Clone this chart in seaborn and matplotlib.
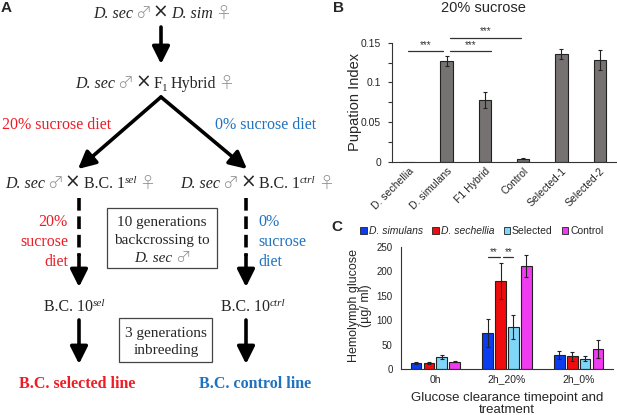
import numpy as np
import pandas as pd
import seaborn as sns
import matplotlib.pyplot as plt
from matplotlib.patches import Rectangle, Patch
from matplotlib.ticker import FuncFormatter, MultipleLocator

# ---- Datos panel B (indice de pupacion, 20% sacarosa) ----
lineas_b = ["D. sechellia", "D. simulans", "F1 Hybrid", "Control", "Selected-1", "Selected-2"]
pupacion = [0.0, 0.127, 0.078, 0.004, 0.136, 0.128]
pupacion_err = [0.0, 0.006, 0.010, 0.001, 0.006, 0.013]

# ---- Datos panel C (glucosa en hemolinfa) ----
tiempos = ["0h", "2h_20%", "2h_0%"]
cepas = ["D. simulans", "D. sechellia", "Selected", "Control"]
glu_sim = [12, 73, 29]
glu_sec = [12, 180, 26]
glu_sel = [25, 86, 21]
glu_ctrl = [15, 211, 41]
err_sim = [2, 29, 8]
err_sec = [1.5, 36, 9]
err_sel = [4, 24, 5]
err_ctrl = [1.5, 22, 19]
colores_c = ["#0b3cf0", "#f00c0c", "#7fd6f8", "#f03cf0"]

sns.set_theme(style="ticks")
plt.rcParams["font.family"] = ["Liberation Sans", "DejaVu Sans"]

fig = plt.figure(figsize=(6.17, 4.15), dpi=100)
W, H = 617, 415

# ================= Panel A: esquema de cruces =================
axA = fig.add_axes([0, 0, 360 / W, 1])
axA.set_xlim(0, 360)
axA.set_ylim(H, 0)
axA.axis("off")

ROJO = "#ee1c25"
AZUL = "#1f72c0"
SERIF = ["Liberation Serif", "DejaVu Serif"]
IT = dict(family=SERIF, style="italic")
RM = dict(family=SERIF)
SYM = dict(family=["Noto Sans CJK JP", "DejaVu Sans"], color="#8c8c8c", fontweight="light")
XX = dict(family=["DejaVu Sans"], fontsize=13.5)
renderer = fig.canvas.get_renderer()


def texto_mixto(xc, y, partes, size=11.5):
    # partes: (texto, estilo, hueco antes en px, desplazamiento vertical, escala)
    objs = []
    total = 0
    for s, kw, gap, dy, esc in partes:
        kw = dict(kw)
        fs = kw.pop("fontsize", size) * esc
        t = axA.text(0, y + dy, s, fontsize=fs, va="baseline", ha="left", **kw)
        w = t.get_window_extent(renderer=renderer).width
        objs.append((t, gap, w))
        total += gap + w
    x = xc - total / 2
    for t, gap, w in objs:
        x += gap
        t.set_x(x)
        x += w


def cruce(xc, y, derecha):
    texto_mixto(xc, y, [("D. sec", IT, 0, 0, 1), ("\u2642", SYM, 2, 0, 1), ("\u00d7", XX, 2, 0, 1)] + derecha
                + [("\u2640", SYM, 2, 0, 1)])


cruce(162, 18, [("D. sim", IT, 3, 0, 1)])
cruce(155, 88, [("F", RM, 2, 0, 1), ("1", RM, 0, 3, 0.7), ("Hybrid", RM, 3, 0, 1)])
cruce(80, 188, [("B.C. 1", RM, 3, 0, 1), ("sel", IT, 0, -5, 0.7)])
cruce(257, 188, [("B.C. 1", RM, 3, 0, 1), ("ctrl", IT, 0, -5, 0.7)])
texto_mixto(75, 311, [("B.C. 10", RM, 0, 0, 1), ("sel", IT, 0, -5, 0.7)])
texto_mixto(253, 311, [("B.C. 10", RM, 0, 0, 1), ("ctrl", IT, 0, -5, 0.7)])

flecha = dict(arrowstyle="-|>,head_length=0.7,head_width=0.35", lw=2.6, color="black",
              mutation_scale=15, shrinkA=0, shrinkB=0)
for (x0, y0), (x1, y1) in [((161, 27), (161, 64)), ((161, 97), (78, 169)), ((161, 97), (247, 169)),
                           ((79, 255), (79, 287)), ((246, 255), (246, 287)),
                           ((79, 320), (79, 364)), ((246, 320), (246, 364))]:
    axA.annotate("", xy=(x1, y1), xytext=(x0, y0), arrowprops=flecha)
for xv in [79, 246]:
    axA.plot([xv, xv], [198, 256], color="black", lw=2.6, ls=(0, (3.5, 1.6)), solid_capstyle="butt")

axA.text(57, 125, "20% sucrose diet", color=ROJO, fontsize=11.5, family=SERIF, ha="center", va="center")
axA.text(266, 125, "0% sucrose diet", color=AZUL, fontsize=11.5, family=SERIF, ha="center", va="center")
axA.text(68, 242, "20%\nsucrose\ndiet", color=ROJO, fontsize=11.5, family=SERIF, ha="right",
         va="center", multialignment="right", linespacing=1.3)
axA.text(258, 242, "0%\nsucrose\ndiet", color=AZUL, fontsize=11.5, family=SERIF, ha="left",
         va="center", linespacing=1.3)

axA.add_patch(Rectangle((107, 208), 110, 60, fc="white", ec="#444", lw=0.9))
axA.text(162, 222, "10 generations", fontsize=11, family=SERIF, ha="center", va="center")
axA.text(162, 240, "backcrossing to", fontsize=11, family=SERIF, ha="center", va="center")
texto_mixto(162, 262, [("D. sec", IT, 0, 0, 1), ("\u2642", SYM, 3, 0, 1)], size=11)
axA.add_patch(Rectangle((119, 318), 93, 44, fc="white", ec="#444", lw=0.9))
axA.text(166, 333, "3 generations", fontsize=11, family=SERIF, ha="center", va="center")
axA.text(166, 350, "inbreeding", fontsize=11, family=SERIF, ha="center", va="center")

axA.text(77, 384, "B.C. selected line", color=ROJO, fontsize=11.5, family=SERIF, fontweight="bold",
         ha="center", va="center")
axA.text(255, 384, "B.C. control line", color=AZUL, fontsize=11.5, family=SERIF, fontweight="bold",
         ha="center", va="center")

# ================= Panel B =================
axB = fig.add_axes([392 / W, 1 - 161.7 / H, 224 / W, 119 / H])
df_b = pd.DataFrame({"Linea": lineas_b, "Indice": pupacion})
sns.barplot(data=df_b, x="Linea", y="Indice", order=lineas_b, color="#777272", saturation=1,
            width=0.32, edgecolor="#222222", linewidth=0.8, errorbar=None, ax=axB)
xs_b = [b.get_x() + b.get_width() / 2 for b in axB.containers[0]]
for xb, v, e in zip(xs_b, pupacion, pupacion_err):
    if e > 0:
        axB.errorbar(xb, v, yerr=e, fmt="none", ecolor="#222", elinewidth=0.8, capsize=1.5, capthick=0.8)
axB.set_ylim(0, 0.15)
axB.set_yticks([0, 0.05, 0.1, 0.15])
axB.yaxis.set_minor_locator(MultipleLocator(0.025))
axB.yaxis.set_major_formatter(FuncFormatter(lambda v, p: f"{v:g}"))
axB.set_xlabel("")
axB.set_ylabel("Pupation Index", fontsize=10.5)
axB.yaxis.set_label_coords(-0.134, 0.5)
axB.tick_params(axis="y", which="both", length=3, width=0.8, labelsize=7.5, pad=5, color="#333")
axB.tick_params(axis="x", length=0, labelsize=7.5, pad=3)
plt.setp(axB.get_xticklabels(), rotation=45, ha="right", rotation_mode="anchor")
sns.despine(ax=axB)
for sp in ["left", "bottom"]:
    axB.spines[sp].set_color("#333")
    axB.spines[sp].set_linewidth(0.8)

# lineas de significancia
for xa, xb2, yl in [(0, 0.9, 0.139), (1.1, 2.15, 0.139), (1.1, 2.95, 0.156)]:
    axB.plot([xa, xb2], [yl, yl], color="#333", lw=0.9, clip_on=False)
    axB.text((xa + xb2) / 2, yl + 0.002, "***", fontsize=7, ha="center", va="bottom", color="#333",
             clip_on=False)
fig.text(483 / W, 1 - 8 / H, "20% sucrose", fontsize=10.5, ha="center", va="center")

# ================= Panel C =================
axC = fig.add_axes([401 / W, 1 - 369 / H, 212 / W, 122.3 / H])
df_c = pd.DataFrame({
    "Tiempo": tiempos * 4,
    "Cepa": np.repeat(cepas, 3),
    "Glucosa": glu_sim + glu_sec + glu_sel + glu_ctrl,
})
sns.barplot(data=df_c, x="Tiempo", y="Glucosa", hue="Cepa", order=tiempos, hue_order=cepas,
            palette=colores_c, saturation=1, width=0.72, gap=0.17, edgecolor="#222222",
            linewidth=0.8, errorbar=None, legend=False, ax=axC)
for cont, vals, errs in zip(axC.containers, [glu_sim, glu_sec, glu_sel, glu_ctrl],
                            [err_sim, err_sec, err_sel, err_ctrl]):
    xs = [b.get_x() + b.get_width() / 2 for b in cont]
    axC.errorbar(xs, vals, yerr=errs, fmt="none", ecolor="#222", elinewidth=0.8, capsize=1.5, capthick=0.8)

axC.set_ylim(0, 250)
axC.set_yticks(range(0, 251, 50))
axC.set_xlabel("Glucose clearance timepoint and\ntreatment", fontsize=9.5, labelpad=5, linespacing=1.1)
axC.set_ylabel("Hemolymph glucose\n(\u00b5g/ ml)", fontsize=9, linespacing=1.05)
axC.yaxis.set_label_coords(-0.135, 0.52)
axC.tick_params(axis="y", length=0, labelsize=7, pad=6)
axC.tick_params(axis="x", length=0, labelsize=7.5, pad=4)
sns.despine(ax=axC)
for sp in ["left", "bottom"]:
    axC.spines[sp].set_color("#333")
    axC.spines[sp].set_linewidth(0.8)

# significancia en 2h_20%
c0 = [b.get_x() + b.get_width() / 2 for b in axC.containers[0]][1]
c1 = [b.get_x() + b.get_width() / 2 for b in axC.containers[1]][1]
c2 = [b.get_x() + b.get_width() / 2 for b in axC.containers[2]][1]
for xa, xb2 in [(c0, c1 - 0.01), (c1 + 0.04, c2)]:
    axC.plot([xa, xb2], [228, 228], color="#333", lw=0.9, clip_on=False)
    axC.text((xa + xb2) / 2, 229, "**", fontsize=7, ha="center", va="bottom", color="#333", clip_on=False)

handles = [Patch(facecolor=c, edgecolor="#222", linewidth=0.6) for c in colores_c]
leg = fig.legend(handles, cepas, loc="center", bbox_to_anchor=(482 / W, 1 - 231 / H), ncol=4,
                 frameon=False, fontsize=7.5, handlelength=0.6, handleheight=0.6, handletextpad=0.2,
                 columnspacing=0.9, borderaxespad=0)
for txt in leg.get_texts()[:2]:
    txt.set_fontstyle("italic")

# etiquetas de panel
fig.text(1 / W, 1 - 8 / H, "A", fontsize=11, fontweight="bold", ha="left", va="center")
fig.text(333 / W, 1 - 8 / H, "B", fontsize=11, fontweight="bold", ha="left", va="center")
fig.text(331 / W, 1 - 227 / H, "C", fontsize=11, fontweight="bold", ha="left", va="center")

fig.savefig("out.png", dpi=100)
